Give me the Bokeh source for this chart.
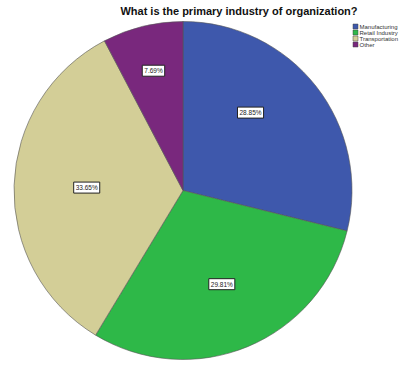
import math
from bokeh.plotting import figure
from bokeh.models import Range1d, Label
from bokeh.core.properties import value
from bokeh.embed import file_html
from bokeh.resources import INLINE

title = "What is the primary industry of  organization?"
categories = ["Manufacturing", "Retail Industry", "Transportation", "Other"]
counts = [30, 31, 35, 8]
colors = ["#3E58AC", "#2EB848", "#D3CE97", "#79287D"]

W, H = 416, 370
p = figure(width=W, height=H, output_backend="svg", toolbar_location=None,
           x_range=Range1d(0, W), y_range=Range1d(0, H), min_border=0)
p.axis.visible = False
p.grid.visible = False
p.outline_line_color = None
p.background_fill_color = "white"
p.border_fill_color = "white"

cx, cy, R = 182.5, H - 190, 169
total = sum(counts)
label_r = [0.61, 0.6, 0.57, 0.73]
label_shift = [-11, 0, 0, 0]  # degrees
cum = 0.0
for i, (cat, c, col) in enumerate(zip(categories, counts, colors)):
    frac = c / total
    a0 = cum * 2 * math.pi
    a1 = (cum + frac) * 2 * math.pi
    p.wedge(x=cx, y=cy, radius=R, start_angle=math.pi / 2 - a0, end_angle=math.pi / 2 - a1,
            direction="clock", fill_color=col, line_color="#555555", line_width=0.6)
    mid = (a0 + a1) / 2 + math.radians(label_shift[i])
    rr = label_r[i] * R
    lx = cx + rr * math.sin(mid)
    ly = cy + rr * math.cos(mid)
    p.add_layout(Label(x=lx, y=ly, text=f"{100 * frac:.2f}%", text_font="Liberation Sans",
                       text_font_size="6.5px", text_align="center", text_baseline="middle",
                       text_color="#222222", background_fill_color="white",
                       border_line_color="#222222", border_line_width=1, padding=2))
    cum += frac

p.add_layout(Label(x=240, y=H - 10, text=title, text_font="Liberation Sans",
                   text_font_style="bold", text_font_size="11px", text_align="center",
                   text_baseline="middle", text_color="#111111"))

# legend
lx0, ly0, step = 355, H - 26, 6
for i, (cat, col) in enumerate(zip(categories, colors)):
    yy = ly0 - i * step
    p.rect(x=lx0, y=yy, width=5, height=5, fill_color=col, line_color="#444444", line_width=0.5)
    p.text(x=[lx0 + 4], y=[yy], text=[cat], text_font=value("Liberation Sans"),
           text_font_size="6px", text_baseline="middle", text_color="#333333")

open("out.html", "w").write(file_html(p, INLINE))
